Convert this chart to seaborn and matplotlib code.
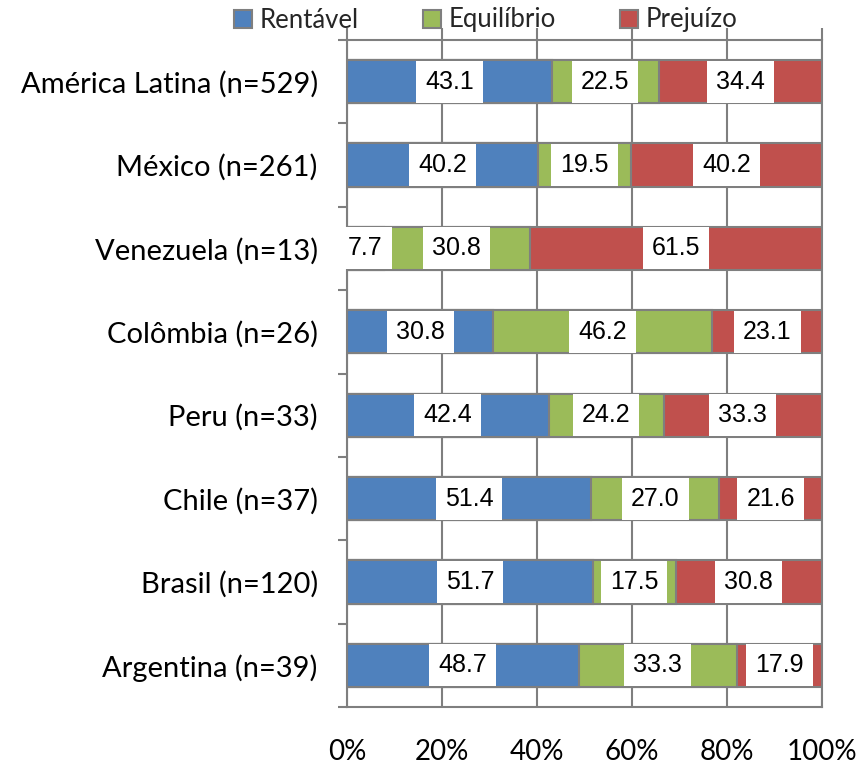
import numpy as np
import pandas as pd
import matplotlib
matplotlib.use("Agg")
import matplotlib.pyplot as plt
from matplotlib.patches import Patch
import seaborn as sns

categories = ["América Latina (n=529)", "México (n=261)", "Venezuela (n=13)",
              "Colômbia (n=26)", "Peru (n=33)", "Chile (n=37)",
              "Brasil (n=120)", "Argentina (n=39)"]
rentavel = [43.1, 40.2, 7.7, 30.8, 42.4, 51.4, 51.7, 48.7]
equilibrio = [22.5, 19.5, 30.8, 46.2, 24.2, 27.0, 17.5, 33.3]
prejuizo = [34.4, 40.2, 61.5, 23.1, 33.3, 21.6, 30.8, 17.9]
series_names = ["Rentável", "Equilíbrio", "Prejuízo"]
tick_labels = ["0%", "20%", "40%", "60%", "80%", "100%"]

colors = ["#4F81BD", "#9BBB59", "#C0504D"]
edge = "#7F7F7F"

sns.set_theme(style="white")
plt.rcParams["font.family"] = ["Lato", "DejaVu Sans"]
plt.rcParams["axes.grid"] = False

vals = np.array([rentavel, equilibrio, prejuizo], dtype=float)
shares = vals / vals.sum(axis=0) * 100
cum = np.cumsum(shares, axis=0)

df = pd.DataFrame({"cat": categories,
                   "c0": cum[0], "c1": cum[1], "c2": cum[2]})

fig = plt.figure(figsize=(8.61, 7.63), dpi=100)
ax = fig.add_axes([347 / 861, 1 - 707 / 763, 475 / 861, 667 / 763])

# stacked look: draw the longest cumulative layer first, shorter ones on top
for col, c in zip(["c2", "c1", "c0"], colors[::-1]):
    sns.barplot(data=df, x=col, y="cat", orient="h", color=c, width=0.52,
                edgecolor=edge, linewidth=1.5, saturation=1, errorbar=None,
                ax=ax, zorder=2)

# value labels in white boxes at segment centers
for i in range(len(categories)):
    left = 0.0
    for k in range(3):
        w = shares[k, i]
        ax.text(left + w / 2, i, f"{vals[k, i]:.1f}", ha="center", va="center",
                fontsize=18, family=["Liberation Sans Narrow", "Liberation Sans"],
                color="black", zorder=4,
                bbox=dict(boxstyle="square,pad=0.36", fc="white", ec="none"))
        left += w

ax.set_xlim(0, 100)
ax.set_ylim(len(categories) - 0.5, -0.5)
ax.set_xlabel("")
ax.set_ylabel("")
ax.set_xticks([0, 20, 40, 60, 80, 100])
ax.set_xticklabels(tick_labels)
ax.tick_params(axis="x", top=True, bottom=False, labeltop=False, labelbottom=True,
               length=9, width=1.5, color=edge, direction="out", pad=14,
               labelsize=20, labelcolor="black")
ax.tick_params(axis="y", which="major", left=False, length=0, labelsize=21,
               pad=21, labelcolor="black")
for s in ax.spines.values():
    s.set_visible(True)
    s.set_color(edge)
    s.set_linewidth(1.5)

# short outward marks on the category axis between groups
bounds = np.arange(len(categories) + 1) - 0.5
ax.hlines(bounds, -0.02, 0, transform=ax.get_yaxis_transform(), colors=edge,
          linewidth=1.5, clip_on=False, zorder=5)

# vertical gridlines only
ax.grid(False, axis="y", which="both")
ax.grid(True, axis="x", which="major", color=edge, linewidth=1.5)
ax.set_axisbelow(True)

handles = [Patch(facecolor=c, edgecolor=edge, linewidth=1.5) for c in colors]
fig.legend(handles, series_names, loc="center", bbox_to_anchor=(486 / 861, 1 - 20 / 763),
           ncol=3, frameon=False, fontsize=18.5, handlelength=0.7, handleheight=0.7,
           handletextpad=0.3, columnspacing=2.5, borderpad=0)

fig.savefig("out.png", dpi=100)
